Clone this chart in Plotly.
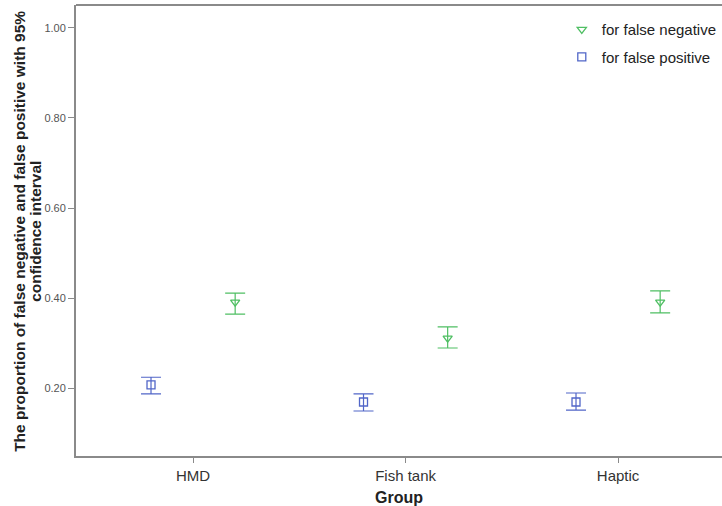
import numpy as np
import plotly.graph_objects as go

# Groups and estimated proportions with 95% confidence limits
groups = ["HMD", "Fish tank", "Haptic"]

fn_mean = [0.391, 0.311, 0.391]
fn_low = [0.364, 0.289, 0.367]
fn_high = [0.411, 0.336, 0.416]

fp_mean = [0.207, 0.169, 0.169]
fp_low = [0.187, 0.149, 0.151]
fp_high = [0.224, 0.187, 0.189]

yticks = [0.20, 0.40, 0.60, 0.80, 1.00]

GREEN = "#4fbf63"
BLUE = "#5166c8"
FRAME = "#8a8a8a"
FONT = "Liberation Sans, Arial, sans-serif"

idx = np.arange(len(groups))
dodge = 0.198

# plot area in pixels (left, width) for placing the rotated y title
PLOT_L, PLOT_W = 76, 646


def ci_trace(name, mean, low, high, xpos, color, symbol):
    mean = np.array(mean)
    return go.Scatter(
        x=xpos,
        y=mean,
        mode="markers",
        name=name,
        legendgroup=name,
        marker=dict(symbol=symbol, size=8, color=color,
                    line=dict(color=color, width=1.3)),
        error_y=dict(
            type="data",
            symmetric=False,
            array=np.array(high) - mean,
            arrayminus=mean - np.array(low),
            color=color,
            thickness=1.2,
            width=10,
        ),
    )


fig = go.Figure()
fig.add_trace(ci_trace("for false negative", fn_mean, fn_low, fn_high,
                       idx + dodge, GREEN, "triangle-down-open"))
fig.add_trace(ci_trace("for false positive", fp_mean, fp_low, fp_high,
                       idx - dodge, BLUE, "square-open"))

fig.update_layout(
    width=722,
    height=506,
    margin=dict(l=PLOT_L, r=0, t=5, b=50),
    paper_bgcolor="white",
    plot_bgcolor="white",
    font=dict(family=FONT, color="#222222"),
    showlegend=True,
    legend=dict(
        x=0.752, y=0.982, xanchor="left", yanchor="top",
        bgcolor="rgba(0,0,0,0)",
        font=dict(size=15, color="#222222"),
        tracegroupgap=5,
        traceorder="grouped",
    ),
    xaxis=dict(
        range=[-0.551, 2.489],
        tickmode="array",
        tickvals=idx,
        ticktext=groups,
        ticks="outside",
        ticklen=5,
        tickcolor=FRAME,
        showgrid=False,
        zeroline=False,
        showline=True,
        linecolor=FRAME,
        linewidth=2,
        tickfont=dict(size=15, color="#333333"),
        title=dict(text="<b>Group</b>", font=dict(size=16, color="#222222"),
                   standoff=9),
    ),
    yaxis=dict(
        range=[0.049, 1.051],
        tickmode="array",
        tickvals=yticks,
        ticktext=[f"{v:.2f}" for v in yticks],
        ticks="outside",
        ticklen=6,
        tickcolor=FRAME,
        showgrid=False,
        zeroline=False,
        showline=True,
        linecolor=FRAME,
        linewidth=2,
        tickfont=dict(size=11, color="#555555"),
    ),
)

# two-line rotated y-axis title, lines set close together
title_lines = [
    ("The proportion of false negative and false positive with 95%", 20),
    ("confidence interval", 36),
]
for text, px in title_lines:
    fig.add_annotation(
        text=f"<b>{text}</b>",
        xref="paper", yref="paper",
        x=(px - PLOT_L) / PLOT_W, y=0.497,
        xanchor="center", yanchor="middle",
        textangle=-90, showarrow=False,
        font=dict(size=15.5, color="#222222"),
    )

# top border of the plotting frame
fig.add_shape(type="line", xref="paper", yref="paper",
              x0=0, x1=1, y0=1, y1=1,
              line=dict(color=FRAME, width=2))

fig.write_html("out.html")
